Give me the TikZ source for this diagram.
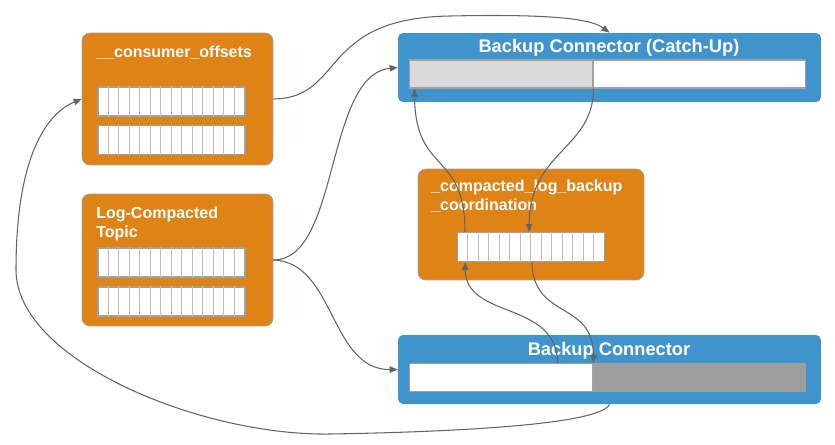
\documentclass[tikz,border=0pt]{standalone}
\usepackage{fontspec}
\setmainfont{Liberation Sans}
\usetikzlibrary{arrows.meta, positioning}
\definecolor{topicorange}{RGB}{224,131,22}
\definecolor{connblue}{RGB}{64,148,205}
\definecolor{edgegray}{RGB}{100,100,100}
\definecolor{boxgray}{RGB}{160,160,160}
\definecolor{cellgray}{RGB}{190,190,190}
\definecolor{donegray}{RGB}{217,217,217}
\definecolor{laggray}{RGB}{158,158,158}

\begin{document}
\begin{tikzpicture}[x=0.02cm, y=-0.02cm,
    topic/.style={rectangle, rounded corners=0.16cm, draw=boxgray, line width=0.5pt, fill=topicorange, minimum width=3.82cm, minimum height=2.64cm, inner sep=0},
    connector/.style={rectangle, rounded corners=0.1cm, fill=connblue, minimum width=8.46cm, minimum height=1.38cm, inner sep=0},
    ttitle/.style={text=white, inner sep=0, align=left, font=\fontsize{9.1}{10.3}\selectfont\bfseries},
    ctitle/.style={text=white, inner sep=0, font=\fontsize{10.4}{12}\selectfont\bfseries},
    partition/.style={rectangle, draw=boxgray, line width=0.6pt, fill=white, minimum width=2.94cm, minimum height=0.58cm, inner sep=0},
    track/.style={rectangle, draw=boxgray, line width=0.6pt, minimum height=0.56cm, inner sep=0},
    edge/.style={draw=edgegray, line width=0.6pt, -{Triangle[length=1.6mm, width=1.3mm]}}
]
    \useasboundingbox (0,0) rectangle (835,444);

    % Nodes
    \node (co) [topic] at (177.5,99) {};
    \node (lt) [topic] at (177.5,260) {};
    \node (cb) [topic, minimum width=4.52cm, minimum height=2.22cm] at (531,224.5) {};
    \node (cu) [connector] at (609.5,67.5) {};
    \node (bc) [connector] at (609.5,369.5) {};

    \node (cotitle) [ttitle, anchor=base west] at (96,57) {\_\_consumer\_offsets};
    \node (lttitle) [ttitle, anchor=north west] at (96,207) {Log-Compacted\\Topic};
    \node (cbtitle) [ttitle, anchor=north west] at (431,180) {\_compacted\_log\_backup\\\_coordination};
    \node (cutitle) [ctitle, anchor=base] at (609,52) {Backup Connector (Catch-Up)};
    \node (bctitle) [ctitle, anchor=base] at (609,355) {Backup Connector};

    % Partitions
    \node (cobarA) [partition] at (171.5,101.5) {};
    \node (cobarB) [partition] at (171.5,140) {};
    \node (ltbarA) [partition] at (171.5,262.5) {};
    \node (ltbarB) [partition] at (171.5,301.5) {};
    \node (cbbar) [partition] at (531,247) {};
    \foreach \b in {cobarA, cobarB, ltbarA, ltbarB, cbbar}
        \foreach \i in {1,...,13}
            \draw[cellgray, line width=0.5pt] ([xshift=\i*0.21cm]\b.north west) -- ([xshift=\i*0.21cm]\b.south west);

    % Progress
    \node (cubar) [track, fill=white, minimum width=7.94cm] at (607.5,74) {};
    \node (cudone) [track, fill=donegray, minimum width=3.68cm, anchor=west] at (cubar.west) {};
    \node (bcbar) [track, fill=laggray, minimum width=7.94cm] at (607.5,377.5) {};
    \node (bcdone) [track, fill=white, minimum width=3.68cm, anchor=west] at (bcbar.west) {};

    % Edges
    \draw[edge] (co.east) .. controls (345,98) and (318,18) .. (450,16) .. controls (545,14) and (590,18) .. (cu.north);
    \draw[edge] (lt.east) .. controls (340,260) and (325,75) .. (cu.west);
    \draw[edge] (lt.east) .. controls (335,262) and (330,370) .. (bc.west);
    \draw[edge] (bc.south) .. controls (600,425) and (450,432) .. (330,434) .. controls (200,436) and (16,360) .. (16,270) .. controls (16,150) and (50,112) .. (co.west);
    \draw[edge] ([xshift=0.16cm]cbbar.north west) .. controls (465,150) and (415,175) .. ([xshift=0.12cm]cudone.south west);
    \draw[edge] (cudone.south east) .. controls (593,150) and (530,150) .. ([xshift=1.44cm]cbbar.north west);
    \draw[edge] ([xshift=1.5cm]cbbar.south west) .. controls (533,320) and (593,300) .. (bcdone.north east);
    \draw[edge] ([xshift=-0.72cm]bcdone.north east) .. controls (557,300) and (466,320) .. ([xshift=0.16cm]cbbar.south west);
\end{tikzpicture}
\end{document}
